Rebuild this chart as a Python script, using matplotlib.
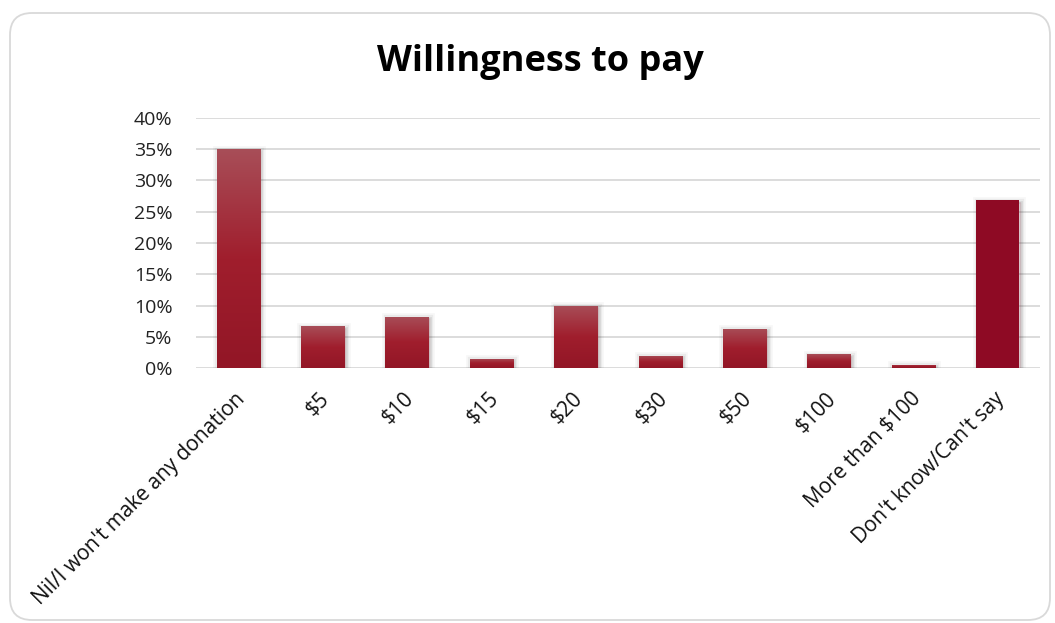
import numpy as np
import matplotlib
import matplotlib.pyplot as plt
import matplotlib.patheffects as pe
import matplotlib.transforms as mtransforms
from matplotlib.patches import FancyBboxPatch
from matplotlib.ticker import PercentFormatter

matplotlib.use('Agg')

plt.rcParams['font.family'] = ['Open Sans', 'DejaVu Sans']

# Данные
categories = ["Nil/I won't make any donation", '$5', '$10', '$15', '$20',
              '$30', '$50', '$100', 'More than $100', "Don't know/Can't say"]
values = [35.0, 6.7, 8.2, 1.5, 10.0, 2.0, 6.3, 2.2, 0.5, 26.8]
y_ticks = [0, 5, 10, 15, 20, 25, 30, 35, 40]

grad_top = np.array([168, 78, 88]) / 255
grad_mid = np.array([160, 30, 45]) / 255
grad_bot = np.array([146, 22, 38]) / 255
solid_color = '#8e0a24'

fig = plt.figure(figsize=(10.55, 6.23), dpi=100)
ax = fig.add_axes([0.1858, 0.4093, 0.80, 0.4013])

# рамка со скруглёнными углами
frame = FancyBboxPatch((0.10, 0.03), 10.40, 6.07,
                       boxstyle='round,pad=0,rounding_size=0.22',
                       transform=fig.dpi_scale_trans, facecolor='white',
                       edgecolor='#d9d9d9', linewidth=1.3, zorder=-10)
fig.patches.append(frame)

x = np.arange(len(categories))
shadow = [pe.Stroke(linewidth=7, foreground='black', alpha=0.03, offset=(1, -1)),
          pe.Stroke(linewidth=4.5, foreground='black', alpha=0.05, offset=(1, -1)),
          pe.Stroke(linewidth=2, foreground='black', alpha=0.08, offset=(1, -1)),
          pe.Normal()]
bars = ax.bar(x, values, width=0.51, color=grad_mid, zorder=3, linewidth=0)

# градиент на всех столбцах, кроме последнего
t = np.linspace(0, 1, 256)[:, None]
grad = np.where(t < 0.5,
                grad_top + (grad_mid - grad_top) * (t / 0.5),
                grad_mid + (grad_bot - grad_mid) * ((t - 0.5) / 0.5))
grad = grad[:, None, :]
for i, b in enumerate(bars):
    b.set_path_effects(shadow)
    if i == len(bars) - 1:
        b.set_facecolor(solid_color)
        continue
    x0, w, h = b.get_x(), b.get_width(), b.get_height()
    im = ax.imshow(grad, extent=(x0, x0 + w, 0, h), aspect='auto',
                   origin='upper', zorder=4, interpolation='bilinear')
    im.set_clip_path(b)

ax.set_xlim(-0.5, len(categories) - 0.5)
ax.set_ylim(0, 40)
ax.set_yticks(y_ticks)
ax.yaxis.set_major_formatter(PercentFormatter(decimals=0))
ax.grid(axis='y', color='#d9d9d9', linewidth=1.3, zorder=0)
ax.set_axisbelow(True)
for s in ax.spines.values():
    s.set_visible(False)
ax.tick_params(axis='y', length=0, pad=17, labelsize=14, labelcolor='#222222')
ax.tick_params(axis='x', length=0, pad=20)

ax.set_xticks(x)
ax.set_xticklabels(categories, rotation=45, ha='right', va='center',
                   rotation_mode='anchor', fontsize=15, color='#111111')
offset = mtransforms.ScaledTranslation(0.04, 0, fig.dpi_scale_trans)
for lbl in ax.get_xticklabels():
    lbl.set_transform(lbl.get_transform() + offset)

fig.text(0.512, 0.90, 'Willingness to pay', ha='center', va='center',
         fontsize=26, fontweight='bold', color='black')

fig.savefig('out.png', dpi=100)
